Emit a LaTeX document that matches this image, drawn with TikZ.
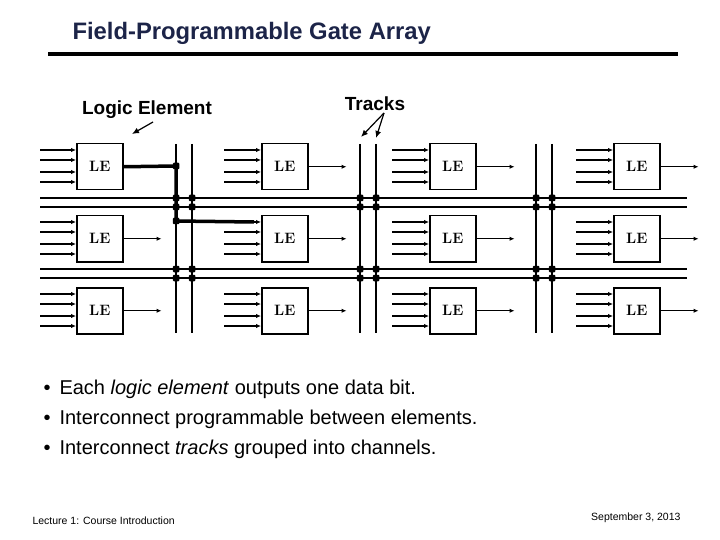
\documentclass[tikz,border=0pt]{standalone}
\usepackage{fontspec}
\setsansfont{Liberation Sans}
\usetikzlibrary{arrows.meta,calc}
\definecolor{navy}{HTML}{1C2448}
\tikzset{
  lebox/.style={draw,line width=1.5pt,minimum width=46pt,minimum height=46pt,inner sep=0pt,anchor=north west,font=\bfseries\fontsize{15}{15}\selectfont},
  wire/.style={line width=1.4pt},
  inarr/.style={line width=1.3pt,-{Latex[length=5pt,width=4.5pt]}},
  dot/.style={fill,rectangle,rounded corners=1pt,inner sep=0pt,minimum size=6.5pt},
  lbl/.style={font=\sffamily\bfseries\fontsize{19}{19}\selectfont}
}
\begin{document}
\begin{tikzpicture}[x=1pt,y=-1pt]
\useasboundingbox (0,0) rectangle (720,540);
\node[font=\sffamily\bfseries\fontsize{23.8}{23.8}\selectfont,text=navy,anchor=west] (title) at (69,33) {Field-Programmable Gate Array};
\draw[line width=4pt] (48,54) coordinate (tl) -- (678,54) coordinate (tr);
% LE boxes
\foreach \c/\x/\s in {1/76/40,2/261/224,3/429/392,4/613/576}{
  \foreach \r/\y in {1/143,2/215,3/287}{
    \node[lebox] (le\c\r) at (\x,\y) {LE};
    \foreach \d in {7,17,29,39}{
      \coordinate (in\c\r\d) at (\s,\y+\d);
      \draw[inarr] (in\c\r\d) -- (\x,\y+\d);
    }
  }
}
\foreach \c/\r in {1/2,1/3,2/1,2/2,2/3,3/1,3/2,3/3,4/1,4/2,4/3}{
  \coordinate (out\c\r) at ($(le\c\r.east)+(38,0)$);
  \draw[inarr] (le\c\r.east) -- (out\c\r);
}
% vertical tracks
\foreach \vx in {176,192,360,376,536,552}{
  \draw[wire] (\vx,144) coordinate (vt\vx) -- (\vx,333) coordinate (vb\vx);
}
% horizontal tracks
\foreach \hy in {198,207,269,278}{
  \draw[wire] (40,\hy) coordinate (hl\hy) -- (687,\hy) coordinate (hr\hy);
  \foreach \vx in {176,192,360,376,536,552}{
    \node[dot] (s\vx\hy) at (\vx,\hy) {};
  }
}
% programmed route
\node[dot] (p1) at (176,166) {};
\node[dot] (p2) at (176,221) {};
\draw[line width=3.5pt] (le11.east) -- (p1.center) -- (p2.center) -- (254,222);
% labels
\node[lbl] (lelbl) at (147,110) {Logic Element};
\coordinate (lea) at (153,122);
\draw[line width=1.2pt,-{Latex[length=7pt,width=6pt]}] (lea) -- (132,134);
\node[lbl] (trlbl) at (375,104) {Tracks};
\coordinate (tra) at (384,113);
\draw[line width=1.2pt,-{Latex[length=7pt,width=6pt]}] (tra) -- (361,137);
\draw[line width=1.2pt,-{Latex[length=7pt,width=6pt]}] (tra) -- (376,138);
% bullets
\begin{scope}[every node/.style={anchor=west,font=\sffamily\fontsize{20}{20}\selectfont}]
\node (b1) at (40,389) {\textbullet\hspace{9pt}Each \textit{logic element} outputs one data bit.};
\node (b2) at (40,419) {\textbullet\hspace{9pt}Interconnect programmable between elements.};
\node (b3) at (40,449) {\textbullet\hspace{9pt}Interconnect \textit{tracks} grouped into channels.};
\node[font=\sffamily\fontsize{10.5}{10.5}\selectfont] (f1) at (29,521) {Lecture 1: Course Introduction};
\node[anchor=east,font=\sffamily\fontsize{10.5}{10.5}\selectfont] (f2) at (684,518) {September 3, 2013};
\end{scope}
\end{tikzpicture}
\end{document}
